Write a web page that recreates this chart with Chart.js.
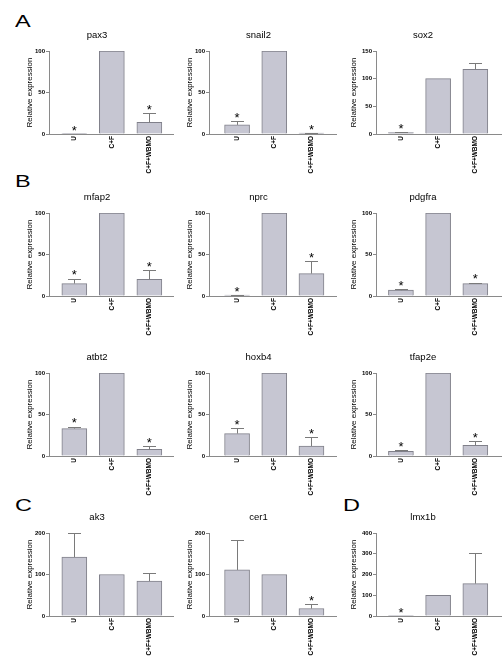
<!DOCTYPE html>
<html><head><meta charset="utf-8">
<script src="https://cdn.jsdelivr.net/npm/chart.js@4/dist/chart.umd.min.js"></script>
<style>
html,body{margin:0;padding:0;background:#fff;width:504px;height:660px;overflow:hidden;position:relative;}
.box{position:absolute;}
.letter{position:absolute;font-family:'Liberation Sans',Arial,sans-serif;font-size:17px;line-height:17px;transform:scaleX(1.38);transform-origin:0 0;color:#000;}
</style></head><body>
<script>
// ---- data ----
const conditions = ['U', 'C+F', 'C+F+WBMO'];
const genes      = ['pax3','snail2','sox2','mfap2','nprc','pdgfra','atbt2','hoxb4','tfap2e','ak3','cer1','lmx1b'];
const meanU      = [0.3, 11, 2.4, 15, 1.2, 7, 33, 27, 5.7, 142, 111, 0.3];
const meanCF     = [100, 100, 100, 100, 100, 100, 100, 100, 100, 100, 100, 100];
const meanWBMO   = [14, 1, 117, 20, 27, 15, 8, 12, 13, 84, 18, 156];
const errU       = [0, 4.5, 0.8, 6, 0.3, 1.2, 2.5, 7, 1.6, 58, 73, 0];
const errCF      = [0, 0, 0, 0, 0, 0, 0, 0, 0, 0, 0, 0];
const errWBMO    = [11, 0.4, 11, 11, 15, 1.2, 3.5, 11, 5, 20, 10, 147];
const starU      = [1, 1, 1, 1, 1, 1, 1, 1, 1, 0, 0, 1];
const starCF     = [0, 0, 0, 0, 0, 0, 0, 0, 0, 0, 0, 0];
const starWBMO   = [1, 1, 0, 1, 1, 1, 1, 1, 1, 0, 1, 0];
const yMaxes     = [100, 100, 150, 100, 100, 100, 100, 100, 100, 200, 200, 400];
const ySteps     = [50, 50, 50, 50, 50, 50, 50, 50, 50, 100, 100, 100];
const panelLetters = ['A', 'B', 'C', 'D'];

// ---- layout (positions only) ----
const geneRow = [0,0,0,1,1,1,2,2,2,3,3,3];
const geneCol = [0,1,2,0,1,2,0,1,2,0,1,2];
const colAxisX = [49, 209, 376];
const colAxisW = [124, 127, 125];
const colYW = [28, 28, 31];
const colXMin = [-0.675, -0.755, -0.67];
const colXMax = [2.63, 2.66, 2.69];
const rowPlotTop = [51, 213, 373, 533];
const letterPos = [[15, 27], [15, 187], [15, 511], [343, 511]];

const FONT = "'Liberation Sans', Arial, sans-serif";
const AXIS = '#8a8a8a';
Chart.defaults.font.family = FONT;

letterPos.forEach((p, k) => {
  const d = document.createElement('div');
  d.className = 'letter';
  d.textContent = panelLetters[k];
  d.style.left = p[0] + 'px';
  d.style.top = (p[1] - 14.4) + 'px';
  document.body.appendChild(d);
});

const means = [meanU, meanCF, meanWBMO];
const errs = [errU, errCF, errWBMO];
const stars = [starU, starCF, starWBMO];

genes.forEach((gene, i) => {
  const col = geneCol[i], row = geneRow[i];
  const yW = colYW[col];
  const W = yW + colAxisW[col] + 6;
  const H = 150;
  const box = document.createElement('div');
  box.className = 'box';
  box.style.left = (colAxisX[col] - yW) + 'px';
  box.style.top = (rowPlotTop[row] - 22) + 'px';
  box.style.width = W + 'px';
  box.style.height = H + 'px';
  const cv = document.createElement('canvas');
  cv.width = W; cv.height = H;
  cv.style.width = W + 'px'; cv.style.height = H + 'px';
  box.appendChild(cv);
  document.body.appendChild(box);

  const errPlugin = {
    id: 'err' + i,
    afterDatasetsDraw(chart) {
      const ctx = chart.ctx;
      const meta = chart.getDatasetMeta(0);
      const ys = chart.scales.y;
      ctx.save();
      meta.data.forEach((bar, k) => {
        const v = means[k][i], e = errs[k][i];
        const x = bar.x;
        const yTop = ys.getPixelForValue(v + e);
        if (e > 0) {
          const yB = ys.getPixelForValue(v);
          ctx.strokeStyle = '#7a7a7a';
          ctx.lineWidth = 1;
          ctx.beginPath();
          ctx.moveTo(Math.round(x) + 0.5, yB);
          ctx.lineTo(Math.round(x) + 0.5, Math.round(yTop) + 0.5);
          ctx.moveTo(Math.round(x) - 6, Math.round(yTop) + 0.5);
          ctx.lineTo(Math.round(x) + 7, Math.round(yTop) + 0.5);
          ctx.stroke();
        }
        if (stars[k][i]) {
          ctx.fillStyle = '#000';
          ctx.font = '13px ' + FONT;
          ctx.textAlign = 'center';
          ctx.textBaseline = 'alphabetic';
          ctx.fillText('*', x, yTop - 6.5 + 7.4);
        }
      });
      ctx.restore();
    }
  };

  new Chart(cv, {
    type: 'bar',
    data: {
      datasets: [{
        data: [0, 1, 2].map(k => ({ x: k, y: means[k][i] })),
        backgroundColor: '#c6c6d2',
        borderColor: '#80808a',
        borderWidth: 1,
        barThickness: 25
      }]
    },
    options: {
      responsive: false,
      animation: false,
      devicePixelRatio: 1,
      layout: { padding: { left: 0, right: 6, top: 0, bottom: 0 } },
      plugins: {
        legend: { display: false },
        tooltip: { enabled: false },
        title: {
          display: true, text: gene, color: '#000',
          font: { size: 9.5, family: FONT, weight: 'normal' },
          padding: { top: 0.3, bottom: 10.3 }
        }
      },
      scales: {
        x: {
          type: 'linear',
          min: colXMin[col], max: colXMax[col],
          offset: false,
          grid: { display: false, drawTicks: false, offset: false },
          border: { display: true, color: AXIS, width: 1 },
          ticks: {
            autoSkip: false, minRotation: 90, maxRotation: 90, padding: 2,
            color: '#000', font: { size: 6.5, weight: 'bold', family: FONT },
            callback: v => conditions[v] ?? ''
          },
          afterBuildTicks: s => { s.ticks = [0, 1, 2].map(v => ({ value: v })); },
          afterFit: s => { s.height = 45; }
        },
        y: {
          min: 0, max: yMaxes[i],
          ticks: { stepSize: ySteps[i], color: '#000', padding: 1, font: { size: 6, weight: 'bold', family: FONT } },
          grid: { drawOnChartArea: false, drawTicks: true, tickLength: 3, color: AXIS },
          border: { color: AXIS, width: 1 },
          title: { display: true, text: 'Relative expression', color: '#000', font: { size: 8, family: FONT }, padding: { top: 4, bottom: 0 } },
          afterFit: s => { s.width = yW; }
        }
      }
    },
    plugins: [errPlugin]
  });
});
</script>
</body></html>
